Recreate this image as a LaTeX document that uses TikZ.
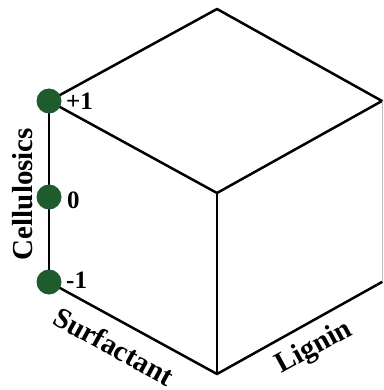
\documentclass[tikz,border=0pt]{standalone}
\usepackage{fontspec}
\setmainfont{Liberation Serif}
\definecolor{dotgreen}{RGB}{30,92,46}
\begin{document}
\begin{tikzpicture}[x=1pt,y=-1pt,
  edge/.style={line width=2.5pt, line cap=round, line join=round},
  faint/.style={line width=1pt, draw=black!25},
  dot/.style={circle, fill=dotgreen, minimum size=25pt, inner sep=0pt},
  lvl/.style={font=\bfseries\fontsize{25}{25}\selectfont, inner sep=0pt, anchor=base west},
  axis/.style={font=\bfseries\fontsize{29}{29}\selectfont, inner sep=0pt, anchor=base}]
\useasboundingbox (0,0) rectangle (383,390);
\coordinate (top) at (217,9);
\coordinate (lt) at (49,101);
\coordinate (rt) at (382,101);
\coordinate (c) at (217,193);
\coordinate (lb) at (49,282);
\coordinate (bot) at (217,374);
\coordinate (rb) at (382,282);
\coordinate (lm) at (49,197);
% cube edges
\draw[edge] (lt) -- (top) -- (rt) -- (c) -- (lt);
\draw[edge] (c) -- (bot);
\draw[edge] (lb) -- (bot) -- (rb);
\draw[edge] (lt) -- (lb);
\draw[faint] (rt) -- (rb);
% level dots
\node[dot] (p1) at (lt) {};
\node[dot] (p0) at (lm) {};
\node[dot] (m1) at (lb) {};
\node[lvl] (t1) at (66,110) {+1};
\node[lvl] (t0) at (67,208) {0};
\node[lvl] (tm) at (66,288) {-1};
% axis labels
\node[axis, rotate=90] (cel) at (32,194) {Cellulosics};
\node[axis, rotate=-28.7] (surf) at (109,355) {Surfactant};
\node[axis, rotate=28.7] (lig) at (318,354) {Lignin};
\end{tikzpicture}
\end{document}
